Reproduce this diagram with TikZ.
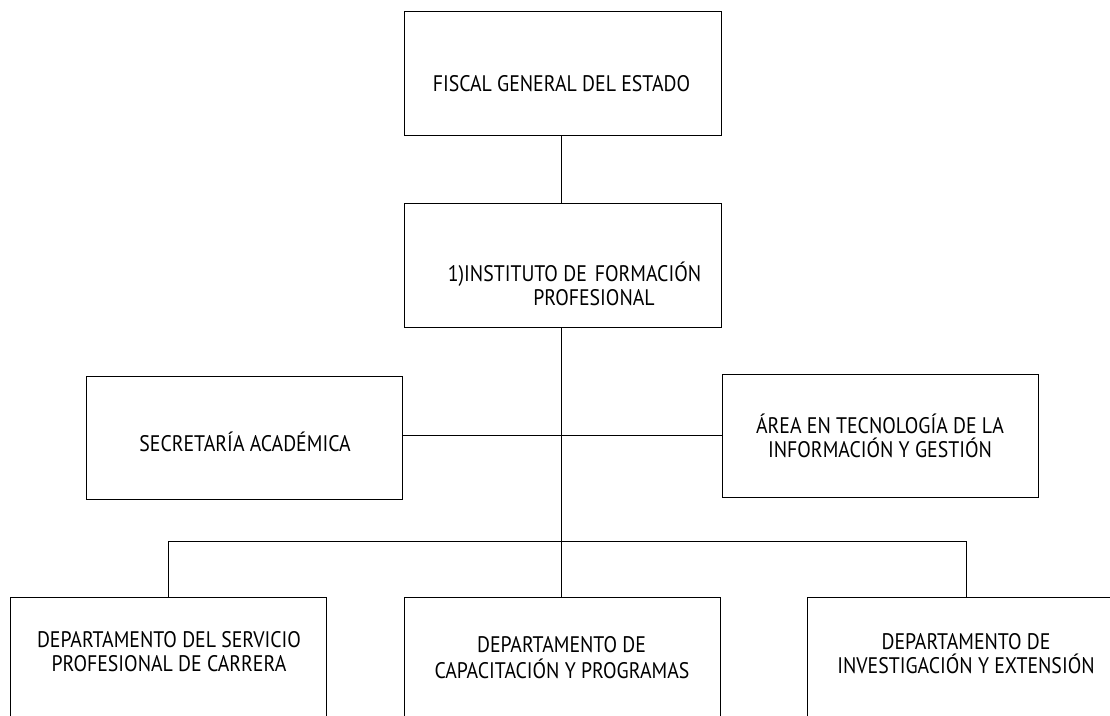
\documentclass[tikz,border=0pt]{standalone}
\usepackage{fontspec}
\setmainfont{PT Sans}[FakeStretch=0.88]
\begin{document}
\begin{tikzpicture}[x=1pt, y=-1pt, line width=1pt,
  box/.style={draw=black, inner sep=0pt, anchor=north west,
    minimum width=316pt, minimum height=124pt},
  lbl/.style={font=\fontsize{22.5}{24}\selectfont, inner sep=0pt, anchor=base}]
\clip (0,0) rectangle (1110,715);
\useasboundingbox (0,0) rectangle (1110,715);

% boxes
\node[box, minimum width=317pt] (fiscal) at (404,11) {};
\node[box, minimum width=317pt] (inst) at (404,203) {};
\node[box, minimum height=123pt] (sec) at (86,376) {};
\node[box, minimum height=123pt] (area) at (722,374) {};
\node[box, minimum height=150pt] (dep1) at (10,597) {};
\node[box, minimum height=150pt] (dep2) at (404,597) {};
\node[box, minimum width=317pt, minimum height=150pt] (dep3) at (807,597) {};

% junction points of the trunk line
\coordinate (hub) at (561,435);
\coordinate (bus) at (561,541);

% connectors
\draw (fiscal.south -| hub) -- (inst.north -| hub);
\draw (inst.south -| hub) -- (dep2.north -| hub);
\draw (sec.east |- hub) -- (area.west |- hub);
\draw (dep1.north) -- (dep1.north |- bus) -- (dep3.north |- bus) -- (dep3.north);

% labels
\node[lbl] (fiscal-t) at (561.5,91) {FISCAL GENERAL DEL ESTADO};
\node[lbl] (inst-t1) at (574.5,281) {1)INSTITUTO DE\hspace{8pt}FORMACIÓN};
\node[lbl] (inst-t2) at (594,305) {PROFESIONAL};
\node[lbl] (sec-t) at (245,451) {SECRETARÍA ACADÉMICA};
\node[lbl] (area-t1) at (880,433) {ÁREA EN TECNOLOGÍA DE LA};
\node[lbl] (area-t2) at (880,457) {INFORMACIÓN Y GESTIÓN};
\node[lbl] (dep1-t1) at (169,647) {DEPARTAMENTO DEL SERVICIO};
\node[lbl] (dep1-t2) at (169,671) {PROFESIONAL DE CARRERA};
\node[lbl] (dep2-t1) at (561.5,652) {DEPARTAMENTO DE};
\node[lbl] (dep2-t2) at (562,678) {CAPACITACIÓN Y PROGRAMAS};
\node[lbl] (dep3-t1) at (966,649) {DEPARTAMENTO DE};
\node[lbl] (dep3-t2) at (966,673) {INVESTIGACIÓN Y EXTENSIÓN};
\end{tikzpicture}
\end{document}
